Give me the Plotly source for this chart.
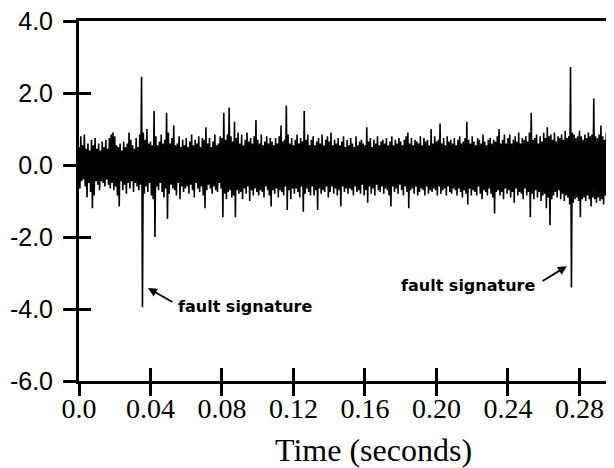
import plotly.graph_objects as go

# Sample spacing of the digitised signal (seconds)
dt = 0.0005

# Vibration amplitude, one value per sample
amplitude = [
    0.50, -0.65, 0.80, -0.45, 0.55, -0.40, 0.85, -0.60, 0.45, -0.90, 0.60, -0.50, 0.40, -0.75, 0.70, -1.20, 0.55, -0.85, 0.75, -0.45,
    0.45, -0.55, 0.60, -0.70, 0.40, -0.45, 0.65, -0.50, 0.50, -0.60, 0.70, -0.40, 0.45, -0.55, 0.75, -0.65, 0.85, -0.50, 0.90, -0.70,
    0.80, -0.60, 0.55, -0.85, 0.50, -1.15, 0.60, -0.45, 0.40, -0.70, 0.65, -0.55, 0.50, -0.80, 0.60, -0.50, 0.90, -0.65, 0.70, -0.45,
    0.55, -0.75, 0.45, -0.50, 0.75, -0.60, 0.50, -0.70, 0.85, -0.55, 2.45, -3.95, 0.90, -0.80, 0.70, -0.60, 1.00, -0.75, 0.60, -0.50,
    0.65, -0.85, 0.55, -0.95, 1.50, -2.00, 0.80, -0.60, 0.55, -0.70, 0.65, -0.50, 0.85, -0.75, 0.60, -0.90, 0.70, -0.65, 1.45, -1.50,
    0.90, -0.80, 0.60, -0.55, 0.75, -0.65, 1.10, -0.70, 0.55, -0.85, 0.60, -0.50, 0.80, -0.95, 0.50, -0.60, 0.70, -0.75, 0.55, -0.65,
    0.75, -0.60, 0.50, -0.80, 0.65, -0.55, 0.85, -0.70, 0.55, -0.90, 0.70, -0.50, 0.60, -0.65, 0.80, -0.75, 0.50, -0.60, 0.75, -0.85,
    0.70, -1.20, 1.05, -0.70, 0.60, -0.55, 0.75, -0.65, 0.50, -0.80, 0.65, -0.60, 0.85, -0.70, 0.55, -0.75, 0.60, -0.50, 0.80, -0.65,
    0.75, -1.45, 1.45, -0.80, 0.70, -0.95, 0.85, -0.75, 1.60, -0.70, 0.80, -0.90, 0.65, -0.85, 1.20, -1.45, 0.75, -0.70, 0.90, -0.80,
    0.60, -0.75, 0.85, -0.95, 0.55, -0.65, 0.70, -0.80, 0.90, -0.60, 0.65, -1.00, 0.75, -0.70, 0.60, -0.85, 0.80, -0.65, 1.25, -0.75,
    0.70, -0.85, 0.60, -0.70, 0.85, -0.75, 0.55, -0.90, 0.65, -0.60, 0.80, -0.70, 0.60, -0.85, 0.75, -1.15, 0.65, -0.70, 0.55, -0.80,
    0.75, -0.65, 0.60, -0.90, 0.80, -0.70, 1.10, -0.75, 0.65, -0.85, 0.70, -0.60, 1.65, -1.25, 0.85, -0.70, 0.60, -0.95, 0.75, -0.65,
    0.55, -0.80, 0.70, -0.65, 0.85, -0.75, 0.60, -0.90, 0.75, -0.60, 0.65, -1.30, 1.50, -0.80, 0.70, -0.65, 0.85, -0.75, 0.55, -0.85,
    0.70, -0.60, 0.80, -0.85, 0.55, -0.70, 0.65, -1.25, 0.75, -0.65, 0.60, -0.80, 0.85, -0.70, 0.55, -0.75, 0.70, -0.60, 0.80, -0.90,
    0.65, -0.75, 0.90, -0.60, 0.55, -0.80, 0.70, -0.65, 0.60, -0.85, 0.75, -0.70, 0.55, -1.15, 0.65, -0.60, 0.80, -0.75, 0.50, -0.65,
    0.70, -0.80, 0.55, -0.65, 0.75, -0.70, 0.60, -0.85, 0.50, -0.60, 0.80, -0.75, 0.55, -0.70, 0.65, -0.80, 0.70, -0.55, 0.60, -0.85,
    0.55, -0.70, 1.05, -1.05, 0.65, -0.60, 0.75, -0.80, 0.50, -0.65, 0.70, -0.85, 0.60, -0.55, 0.80, -0.70, 0.55, -0.75, 0.65, -0.60,
    0.70, -0.80, 0.60, -0.65, 0.75, -0.70, 0.55, -0.85, 0.65, -1.15, 0.80, -0.60, 0.55, -0.75, 0.70, -0.65, 0.60, -0.80, 0.75, -0.55,
    0.65, -0.70, 0.55, -0.85, 0.70, -0.60, 0.80, -0.75, 0.90, -1.20, 0.60, -0.70, 0.75, -0.65, 0.55, -0.80, 0.70, -0.60, 0.65, -0.85,
    0.60, -0.75, 0.80, -0.65, 0.55, -0.70, 0.75, -0.85, 0.65, -0.60, 0.70, -0.80, 0.55, -0.70, 1.00, -0.75, 0.60, -0.65, 0.80, -0.70,
    0.65, -0.85, 0.70, -0.60, 1.15, -0.80, 0.60, -0.70, 0.75, -0.65, 0.55, -0.85, 0.80, -0.60, 0.65, -0.75, 0.70, -0.80, 0.60, -0.65,
    0.75, -0.70, 0.55, -0.85, 0.70, -0.65, 0.80, -0.75, 0.60, -0.90, 0.65, -0.70, 0.75, -0.80, 1.20, -1.10, 0.70, -0.65, 0.60, -0.85,
    0.80, -0.70, 0.65, -0.75, 0.55, -0.85, 0.75, -0.60, 0.70, -0.80, 0.60, -0.95, 0.85, -0.70, 0.65, -0.75, 0.55, -0.85, 0.70, -0.65,
    0.75, -0.80, 0.60, -0.90, 0.70, -1.35, 0.65, -0.75, 0.80, -0.70, 1.00, -0.85, 0.60, -0.75, 0.70, -0.95, 0.85, -0.65, 0.60, -0.80,
    0.75, -0.70, 0.85, -0.90, 0.60, -0.75, 0.70, -1.05, 0.80, -0.65, 0.65, -0.85, 0.90, -0.75, 0.60, -0.80, 0.75, -0.95, 0.70, -0.65,
    0.80, -0.85, 0.65, -0.75, 0.90, -1.45, 1.45, -0.80, 0.70, -0.95, 0.75, -0.70, 0.85, -0.90, 0.60, -0.75, 0.80, -1.00, 0.65, -0.85,
    0.90, -0.80, 0.75, -1.20, 1.05, -0.90, 0.80, -1.67, 0.85, -0.95, 0.70, -0.85, 0.90, -0.75, 0.65, -0.90, 0.80, -0.70, 0.75, -0.95,
    0.85, -0.80, 0.70, -1.00, 0.95, -0.85, 0.75, -0.90, 0.80, -1.10, 2.72, -3.40, 0.90, -1.05, 0.85, -0.95, 0.75, -0.90, 0.80, -1.00,
    0.95, -1.45, 0.80, -0.95, 0.70, -0.90, 0.85, -1.00, 0.75, -0.85, 0.90, -0.95, 0.80, -1.15, 0.85, -0.90, 1.85, -0.95, 0.80, -1.05,
    0.75, -0.90, 0.85, -1.00, 1.10, -0.95, 0.80, -1.10, 0.70, -0.85, 0.90, -1.00, 0.75, -0.95, 0.85, -0.90, 0.70, -0.80, 0.75, -0.85,
]
time_s = [i * dt for i in range(len(amplitude))]

x_tickvals = [0.0, 0.04, 0.08, 0.12, 0.16, 0.20, 0.24, 0.28]
x_ticktext = ["0.0", "0.04", "0.08", "0.12", "0.16", "0.20", "0.24", "0.28"]
y_tickvals = [-6, -4, -2, 0, 2, 4]
y_ticktext = ["-6.0", "-4.0", "-2.0", "0.0", "2.0", "4.0"]

x_range = [0, 0.2982]
y_range = [-6, 4]

fig = go.Figure()
fig.add_trace(go.Scatter(x=time_s, y=amplitude, mode="lines",
                         line=dict(color="black", width=1.6, simplify=False),
                         showlegend=False, hoverinfo="skip"))
# invisible trace to activate the overlay axes (other halves of the cross ticks)
fig.add_trace(go.Scatter(x=[0.1], y=[0], xaxis="x2", yaxis="y2", mode="markers",
                         marker=dict(opacity=0), showlegend=False, hoverinfo="skip"))

fig.update_layout(
    width=614, height=468,
    margin=dict(l=71, r=10, t=13, b=95),
    plot_bgcolor="white", paper_bgcolor="white",
    xaxis=dict(range=x_range, tickvals=x_tickvals, ticktext=x_ticktext,
               ticks="inside", ticklen=13, tickwidth=2.5, tickcolor="black",
               showline=True, linewidth=3, linecolor="black", mirror=True,
               showgrid=False, zeroline=False, automargin=False,
               ticklabeloverflow="allow",
               tickfont=dict(family="Liberation Serif", size=28, color="black")),
    yaxis=dict(range=y_range, tickvals=y_tickvals, ticktext=y_ticktext,
               ticks="outside", ticklen=13, tickwidth=2.5, tickcolor="black",
               showline=True, linewidth=3, linecolor="black", mirror=True,
               showgrid=False, zeroline=False, ticklabelstandoff=5,
               automargin=False, ticklabeloverflow="allow",
               tickfont=dict(family="Liberation Sans", size=25, color="black")),
    xaxis2=dict(range=x_range, overlaying="x", anchor="y2", side="bottom",
                tickvals=x_tickvals, ticks="outside", ticklen=14, tickwidth=2.5,
                tickcolor="black", showticklabels=False, showline=False,
                showgrid=False, zeroline=False, automargin=False),
    yaxis2=dict(range=y_range, overlaying="y", anchor="x2", side="left",
                tickvals=y_tickvals, ticks="inside", ticklen=12, tickwidth=2.5,
                tickcolor="black", showticklabels=False, showline=False,
                showgrid=False, zeroline=False, automargin=False),
)

fig.add_annotation(text="Time (seconds)", xref="paper", yref="paper",
                   x=0.5525, y=-0.192, xanchor="center", yanchor="middle",
                   showarrow=False,
                   font=dict(family="Liberation Serif", size=32, color="black"))

label_font = dict(family="DejaVu Sans", size=16, color="black", weight="bold")
fig.add_annotation(text="fault signature", x=0.0929, y=-3.94, xref="x", yref="y",
                   showarrow=False, font=label_font)
fig.add_annotation(text="fault signature", x=0.2176, y=-3.36, xref="x", yref="y",
                   showarrow=False, font=label_font)
fig.add_annotation(text="", x=0.0386, y=-3.42, ax=0.0531, ay=-3.83,
                   xref="x", yref="y", axref="x", ayref="y",
                   showarrow=True, arrowhead=2, arrowsize=1, arrowwidth=1.8,
                   arrowcolor="black")
fig.add_annotation(text="", x=0.2730, y=-2.81, ax=0.2585, ay=-3.25,
                   xref="x", yref="y", axref="x", ayref="y",
                   showarrow=True, arrowhead=2, arrowsize=1, arrowwidth=1.8,
                   arrowcolor="black")

fig.write_html("out.html")
